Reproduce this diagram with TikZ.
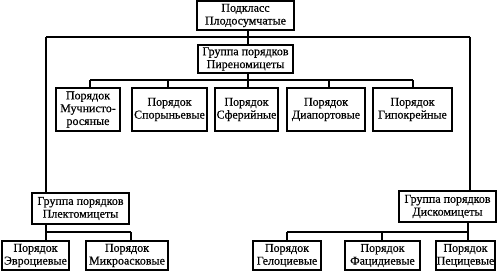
\documentclass[tikz,border=0pt]{standalone}
\usepackage{fontspec}
\setmainfont{Liberation Serif}[FakeBold=0.4]
\begin{document}
\begin{tikzpicture}[x=1pt,y=-1pt,
  box/.style={draw, line width=1.1pt, align=center, inner sep=0pt, font=\fontsize{12}{12.8}\selectfont},
  conn/.style={line width=1.1pt}]
\useasboundingbox (0,0) rectangle (500,272);
% nodes
\node[box, minimum width=97pt, minimum height=29pt] (top) at (245.5,15.5) {Подкласс\\Плодосумчатые};
\node[box, minimum width=95pt, minimum height=28pt] (pyr) at (245.5,59) {Группа порядков\\Пиреномицеты};
\node[box, minimum width=64pt, minimum height=43pt] (m1) at (88,109.5) {Порядок\\Мучнисто-\\росяные};
\node[box, minimum width=75pt, minimum height=43pt] (m2) at (169.5,109.5) {Порядок\\Спорыньевые};
\node[box, minimum width=63pt, minimum height=43pt] (m3) at (246.5,109.5) {Порядок\\Сферийные};
\node[box, minimum width=78pt, minimum height=43pt] (m4) at (326,109.5) {Порядок\\Диапортовые};
\node[box, minimum width=79pt, minimum height=43pt] (m5) at (412.5,109.5) {Порядок\\Гипокрейные};
\node[box, minimum width=97pt, minimum height=31pt] (plecto) at (80.5,208.5) {Группа порядков\\Плектомицеты};
\node[box, minimum width=97pt, minimum height=31pt] (disco) at (447.5,206.5) {Группа порядков\\Дискомицеты};
\node[box, minimum width=67pt, minimum height=29pt] (evro) at (35.5,255.5) {Порядок\\Эвроциевые};
\node[box, minimum width=82pt, minimum height=29pt] (mikro) at (127,255.5) {Порядок\\Микроасковые};
\node[box, minimum width=68pt, minimum height=29pt] (gelo) at (287,255.5) {Порядок\\Гелоциевые};
\node[box, minimum width=75pt, minimum height=29pt] (fatsi) at (382.5,255.5) {Порядок\\Фацидиевые};
\node[box, minimum width=59pt, minimum height=29pt] (petsi) at (465.5,255.5) {Порядок\\Пецицевые};
% junction coordinates
\coordinate (hT) at (248,37);
\coordinate (hL) at (46,37);
\coordinate (hR) at (470,37);
\coordinate (pJ) at (248,80);
\coordinate (pL) at (90,80);
\coordinate (p2) at (168,80);
\coordinate (p4) at (329,80);
\coordinate (pR) at (413,80);
\coordinate (lJ) at (46,232);
\coordinate (lR) at (131,232);
\coordinate (rJ) at (468,232);
\coordinate (rL) at (287,232);
\coordinate (r2) at (382,232);
% connectors
\draw[conn] (top.south -| hT) -- (pyr.north -| hT);
\draw[conn] (hL) -- (hR);
\draw[conn] (hL) -- (hL |- plecto.north);
\draw[conn] (hR) -- (hR |- disco.north);
\draw[conn] (pyr.south -| pJ) -- (pJ);
\draw[conn] (pL) -- (pR);
\draw[conn] (pL) -- (pL |- m1.north);
\draw[conn] (p2) -- (p2 |- m2.north);
\draw[conn] (pJ) -- (pJ |- m3.north);
\draw[conn] (p4) -- (p4 |- m4.north);
\draw[conn] (pR) -- (pR |- m5.north);
\draw[conn] (plecto.south -| lJ) -- (lJ) -- (lR);
\draw[conn] (lJ) -- (lJ |- evro.north);
\draw[conn] (lR) -- (lR |- mikro.north);
\draw[conn] (disco.south -| rJ) -- (rJ) -- (rL);
\draw[conn] (rL) -- (rL |- gelo.north);
\draw[conn] (r2) -- (r2 |- fatsi.north);
\draw[conn] (rJ) -- (rJ |- petsi.north);
\end{tikzpicture}
\end{document}
